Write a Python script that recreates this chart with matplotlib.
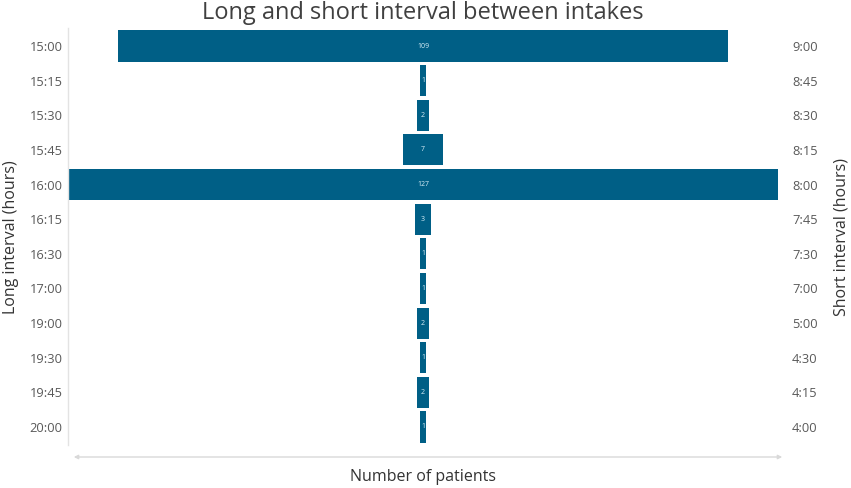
import matplotlib
matplotlib.use('Agg')
import matplotlib.pyplot as plt

# data
long_labels = ['15:00', '15:15', '15:30', '15:45', '16:00', '16:15',
               '16:30', '17:00', '19:00', '19:30', '19:45', '20:00']
short_labels = ['9:00', '8:45', '8:30', '8:15', '8:00', '7:45',
                '7:30', '7:00', '5:00', '4:30', '4:15', '4:00']
patients = [109, 1, 2, 7, 127, 3, 1, 1, 2, 1, 2, 1]

plt.rcParams['font.family'] = ['Open Sans', 'DejaVu Sans']
bar_color = '#005f86'
text_color = '#595959'

fig = plt.figure(figsize=(8.51, 4.88), dpi=100)
ax = fig.add_axes([68 / 851, 1 - 445 / 488, 710 / 851, 417 / 488])

rows = list(range(len(patients)))
half = max(patients) / 2
# centered bars (funnel style)
ax.barh(rows, patients, left=[-p / 2 for p in patients], height=0.9,
        color=bar_color)
for r, p in zip(rows, patients):
    ax.text(0, r, str(p), ha='center', va='center', fontsize=5, color='#d8eef7')

ax.set_xlim(-half, half)
ax.set_ylim(len(rows) - 0.48, -0.52)
ax.set_xticks([])
ax.set_yticks(rows)
ax.set_yticklabels(long_labels, fontsize=9.3, color=text_color)
ax.tick_params(axis='y', length=0, pad=4)
for s in ['top', 'right', 'bottom']:
    ax.spines[s].set_visible(False)
ax.spines['left'].set_color('#e3e3e3')
ax.spines['left'].set_linewidth(1)

ax2 = ax.twinx()
ax2.set_ylim(ax.get_ylim())
ax2.set_yticks(rows)
ax2.set_yticklabels(short_labels, fontsize=9.3, color=text_color)
ax2.tick_params(axis='y', length=0, pad=10)
for s in ax2.spines.values():
    s.set_visible(False)

fig.text(11 / 851, 1 - 237 / 488, 'Long interval (hours)', rotation=90,
         ha='center', va='center', fontsize=11.5, color='#333333')
fig.text(842 / 851, 1 - 237 / 488, 'Short interval (hours)', rotation=90,
         ha='center', va='center', fontsize=11.5, color='#333333')
fig.text(423 / 851, 1 - 13 / 488, 'Long and short interval between intakes',
         ha='center', va='center', fontsize=17, color='#404040')
fig.text(423 / 851, 1 - 477 / 488, 'Number of patients',
         ha='center', va='center', fontsize=11.5, color='#333333')

# double-headed axis arrow under the chart
fig.add_artist(matplotlib.patches.FancyArrowPatch(
    (71 / 851, 1 - 457 / 488), (785 / 851, 1 - 457 / 488),
    transform=fig.transFigure, arrowstyle='<|-|>', mutation_scale=6,
    color='#d9d9d9', linewidth=1))

fig.savefig('out.png', dpi=100)
